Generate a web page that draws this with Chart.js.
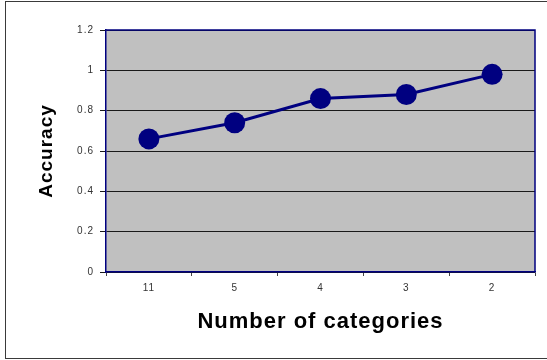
<!DOCTYPE html>
<html>
<head>
<meta charset="utf-8">
<script src="https://cdn.jsdelivr.net/npm/chart.js@4/dist/chart.umd.min.js"></script>
<style>
  html, body { margin: 0; padding: 0; background: #ffffff; }
  #wrap { width: 547px; height: 360px; position: relative; }
</style>
</head>
<body>
<div id="wrap"><canvas id="c"></canvas></div>
<script>
// Accuracy against the number of categories used
const categories = ['11', '5', '4', '3', '2'];
const accuracy = [0.66, 0.74, 0.86, 0.88, 0.98];
const yTicks = [0, 0.2, 0.4, 0.6, 0.8, 1, 1.2];

const FONT = '"Liberation Sans", Arial, sans-serif';
const NAVY = '#000080';

// Page frame, grey plot background and the navy frame around the plot
const framePlugin = {
  id: 'frame',
  beforeDraw(chart) {
    const ctx = chart.ctx;
    const a = chart.chartArea;
    ctx.letterSpacing = '1px';
    ctx.save();
    ctx.fillStyle = '#ffffff';
    ctx.fillRect(0, 0, chart.width, chart.height);
    ctx.strokeStyle = '#3a3a3a';
    ctx.lineWidth = 1;
    ctx.strokeRect(5.5, 1.5, chart.width + 10, 357);
    ctx.fillStyle = '#c0c0c0';
    ctx.fillRect(a.left, a.top, a.right - a.left, a.bottom - a.top);
    ctx.restore();
  },
  afterDraw(chart) {
    const ctx = chart.ctx;
    const a = chart.chartArea;
    ctx.save();
    ctx.strokeStyle = NAVY;
    ctx.lineWidth = 1.5;
    ctx.beginPath();
    ctx.moveTo(a.left, a.top);
    ctx.lineTo(a.right, a.top);
    ctx.lineTo(a.right, a.bottom);
    ctx.stroke();
    ctx.restore();
  }
};

new Chart(document.getElementById('c'), {
  type: 'line',
  data: {
    labels: categories,
    datasets: [{
      data: accuracy,
      borderColor: NAVY,
      backgroundColor: NAVY,
      borderWidth: 3,
      pointRadius: 10.5,
      pointHoverRadius: 10.5,
      pointBackgroundColor: NAVY,
      pointBorderColor: NAVY,
      pointBorderWidth: 0,
      tension: 0,
      fill: false
    }]
  },
  options: {
    responsive: true,
    maintainAspectRatio: false,
    animation: false,
    devicePixelRatio: 1,
    layout: { padding: { top: 30, right: 12, left: 0, bottom: 0 } },
    plugins: {
      legend: { display: false },
      tooltip: { enabled: false },
      title: { display: false }
    },
    scales: {
      x: {
        type: 'category',
        offset: true,
        afterFit(scale) { scale.height = 88; },
        grid: {
          offset: true,
          drawOnChartArea: false,
          drawTicks: true,
          tickLength: 4,
          color: '#444444',
          lineWidth: 1
        },
        border: { display: true, color: NAVY, width: 1.5 },
        ticks: {
          padding: 6,
          color: '#333333',
          font: { family: FONT, size: 10 },
          maxRotation: 0
        },
        title: {
          display: true,
          text: 'Number of categories',
          color: '#000000',
          font: { family: FONT, size: 22, weight: 'bold' },
          padding: { top: 0, bottom: 25 }
        }
      },
      y: {
        min: 0,
        max: 1.2,
        afterFit(scale) { scale.width = 106; },
        afterBuildTicks(scale) {
          scale.ticks = yTicks.map(v => ({ value: v }));
        },
        grid: {
          drawOnChartArea: true,
          drawTicks: true,
          tickLength: 6,
          color: '#1a1a1a',
          lineWidth: 1
        },
        border: { display: true, color: NAVY, width: 1.5 },
        ticks: {
          padding: 6,
          color: '#333333',
          font: { family: FONT, size: 10 },
          callback: v => String(Math.round(v * 10) / 10)
        },
        title: {
          display: true,
          text: 'Accuracy',
          color: '#000000',
          font: { family: FONT, size: 19, weight: 'bold' },
          padding: { top: 35, bottom: 0 }
        }
      }
    }
  },
  plugins: [framePlugin]
});
</script>
</body>
</html>
